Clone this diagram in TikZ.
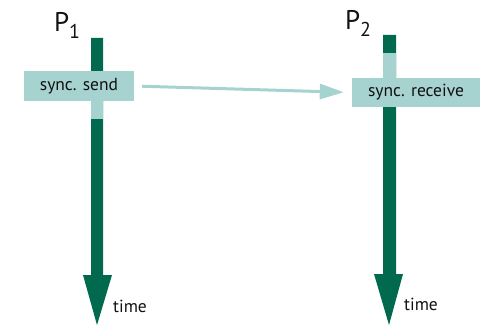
\documentclass[tikz,border=0pt]{standalone}
\usepackage{fontspec}
\setmainfont{PT Sans}
\usetikzlibrary{arrows.meta}
\definecolor{darkg}{HTML}{00694E}
\definecolor{lightg}{HTML}{A6D3D0}
\definecolor{txt}{HTML}{111111}
\tikzset{
  evbox/.style={fill=lightg, inner sep=0pt, text=txt, font=\fontsize{17.5}{20}\selectfont},
  plabel/.style={inner sep=0pt, text=txt, font=\fontsize{27}{30}\selectfont},
  timelabel/.style={inner sep=0pt, text=txt, font=\fontsize{17.5}{20}\selectfont},
  msg/.style={draw=lightg, line width=3pt, -{Triangle[length=24pt,width=15pt]}, shorten <=8pt, shorten >=8pt}
}
\begin{document}
\begin{tikzpicture}[x=1pt,y=-1pt]
\useasboundingbox (0,0) rectangle (484,326);
% process 1 time arrow
\fill[darkg] (91,38) -- (103,38) -- (103,275) -- (112,275) -- (97,325) -- (83,275) -- (91,275) -- cycle;
\fill[lightg] (91,100) rectangle (103,119);
% process 2 time arrow
\fill[darkg] (383,35) -- (396,35) -- (396,274) -- (403,274) -- (389,325) -- (374,274) -- (383,274) -- cycle;
\fill[lightg] (383,53) rectangle (396,79);
% boxes
\node[evbox, minimum width=110pt, minimum height=30pt] (send) at (79,86) {sync. send};
\node[evbox, minimum width=128pt, minimum height=29pt] (recv) at (416,92.5) {sync. receive};
\draw[msg] (send.east) -- (recv.west);
% labels
\node[plabel] (p1) at (67,25) {P\raisebox{-7pt}{\fontsize{20}{22}\selectfont 1}};
\node[plabel] (p2) at (358,23) {P\raisebox{-7pt}{\fontsize{20}{22}\selectfont 2}};
\node[timelabel] (t1) at (130,306) {time};
\node[timelabel] (t2) at (421,304) {time};
\end{tikzpicture}
\end{document}
